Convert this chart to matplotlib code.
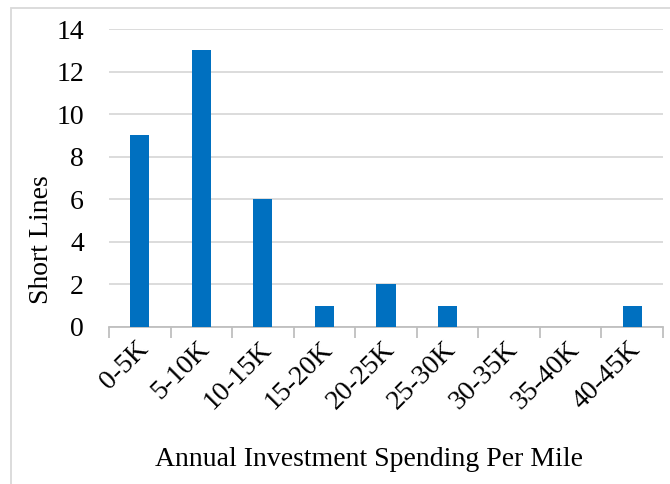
import matplotlib
matplotlib.use("Agg")
import matplotlib.pyplot as plt
from matplotlib.patches import Rectangle
from matplotlib.transforms import ScaledTranslation

categories = ["0-5K", "5-10K", "10-15K", "15-20K", "20-25K", "25-30K", "30-35K", "35-40K", "40-45K"]
values = [9, 13, 6, 1, 2, 1, 0, 0, 1]
y_ticks = [0, 2, 4, 6, 8, 10, 12, 14]

plt.rcParams['font.family'] = ['Liberation Serif', 'DejaVu Serif']

W, H = 670, 484
FS = 20
fig = plt.figure(figsize=(W / 100, H / 100), dpi=100)
ax = fig.add_axes([109 / W, 1 - 327 / H, (663 - 109) / W, (327 - 29) / H])

x = list(range(len(categories)))
ax.bar(x, values, width=0.31, color="#0070C0", zorder=3)

ax.set_xlim(-0.5, len(categories) - 0.5)
ax.set_ylim(0, 14)
ax.set_yticks(y_ticks)
ax.set_yticklabels([str(v) for v in y_ticks], fontsize=FS)
ax.yaxis.grid(True, color="#D9D9D9", linewidth=1.3, zorder=0)
ax.tick_params(axis='y', length=0, pad=18)

ax.set_xticks([i + 0.5 for i in range(-1, len(categories))], minor=False)
ax.set_xticklabels([])
ax.tick_params(axis='x', which='major', length=8, color="#BFBFBF", width=1.3, direction='out')
ax.set_xticks(x, minor=True)
ax.set_xticklabels(categories, minor=True, rotation=45, ha='right', va='top',
                   rotation_mode='anchor', fontsize=FS)
ax.tick_params(axis='x', which='minor', length=0, pad=7)
for lbl in ax.get_xticklabels(minor=True):
    lbl.set_transform(lbl.get_transform() + ScaledTranslation(-0.04, 0, fig.dpi_scale_trans))

for s in ['top', 'right', 'left']:
    ax.spines[s].set_visible(False)
ax.spines['bottom'].set_color("#BFBFBF")
ax.spines['bottom'].set_linewidth(1.3)

ax.set_ylabel("Short Lines", fontsize=FS)
ax.yaxis.set_label_coords(42 / W, 1 - 240 / H, transform=fig.transFigure)
ax.set_xlabel("Annual Investment Spending Per Mile", fontsize=FS)
ax.xaxis.set_label_coords(369 / W, 1 - 460 / H, transform=fig.transFigure)
ax.xaxis.label.set_va('center')
ax.yaxis.label.set_va('center')

fig.patches.append(Rectangle((11 / W, -0.1), 1.2, 1.1 - 8.5 / H, transform=fig.transFigure,
                             fill=False, edgecolor="#D9D9D9", linewidth=1.3))

fig.savefig("out.png", dpi=100)
